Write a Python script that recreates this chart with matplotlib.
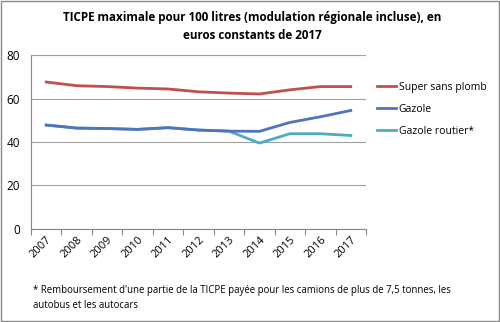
import numpy as np
import matplotlib.pyplot as plt
from matplotlib.patches import Rectangle

plt.rcParams['font.family'] = ['Open Sans', 'DejaVu Sans']

annees = ['2007', '2008', '2009', '2010', '2011', '2012', '2013', '2014', '2015', '2016', '2017']
super_sp = [67.6, 65.9, 65.5, 64.8, 64.4, 63.1, 62.5, 62.1, 64.0, 65.5, 65.5]
gazole = [47.8, 46.4, 46.2, 45.8, 46.6, 45.5, 45.0, 44.9, 49.0, 51.6, 54.5]
gazole_routier = [47.8, 46.4, 46.2, 45.8, 46.6, 45.5, 45.0, 39.5, 43.8, 43.8, 43.0]

fig = plt.figure(figsize=(5.0, 3.22), dpi=100)
ax = fig.add_axes([0.062, 0.289, 0.67, 0.54])

x = np.arange(len(annees))
ax.plot(x, gazole_routier, color='#4BACC6', lw=2, label='Gazole routier*', zorder=3)
ax.plot(x, gazole, color='#4F74BD', lw=2, label='Gazole', zorder=4)
ax.plot(x, super_sp, color='#C0504D', lw=2, label='Super sans plomb', zorder=5)

ax.set_xlim(-0.5, len(annees) - 0.5)
ax.set_ylim(0, 80)
ax.set_yticks([0, 20, 40, 60, 80])
ax.yaxis.grid(True, color='#A0A0A0', lw=0.8)
ax.set_axisbelow(True)
ax.set_xticks(np.arange(-0.5, len(annees), 1.0))
ax.set_xticklabels([])
ax.set_xticks(x, minor=True)
ax.set_xticklabels(annees, minor=True, rotation=45, ha='right', rotation_mode='anchor', fontsize=8)
ax.tick_params(axis='x', which='minor', length=0, pad=4)
ax.tick_params(axis='x', which='major', length=4, color='#888888')
ax.tick_params(axis='y', length=0, labelsize=8.5, pad=8)
for s in ['top', 'right']:
    ax.spines[s].set_visible(False)
ax.spines['left'].set_color('#888888')
ax.spines['bottom'].set_color('#888888')

h, l = ax.get_legend_handles_labels()
order = [2, 1, 0]
fig.legend([h[i] for i in order], [l[i] for i in order], loc='upper left',
           bbox_to_anchor=(0.736, 0.775), frameon=False, fontsize=7.5,
           handlelength=1.8, handletextpad=0.25, labelspacing=1.05)

fig.text(0.505, 0.918, 'TICPE maximale pour 100 litres (modulation régionale incluse), en\neuros constants de 2017',
         ha='center', va='center', fontsize=8.4, fontweight='bold', linespacing=1.5)
fig.text(0.066, 0.035, "* Remboursement d'une partie de la TICPE payée pour les camions de plus de 7,5 tonnes, les\nautobus et les autocars",
         ha='left', va='bottom', fontsize=6.9, linespacing=1.5)

fig.patches.append(Rectangle((0.002, 0.003), 0.996, 0.994, transform=fig.transFigure,
                             fill=False, edgecolor='#888888', lw=1))

fig.savefig('out.png', dpi=100)
